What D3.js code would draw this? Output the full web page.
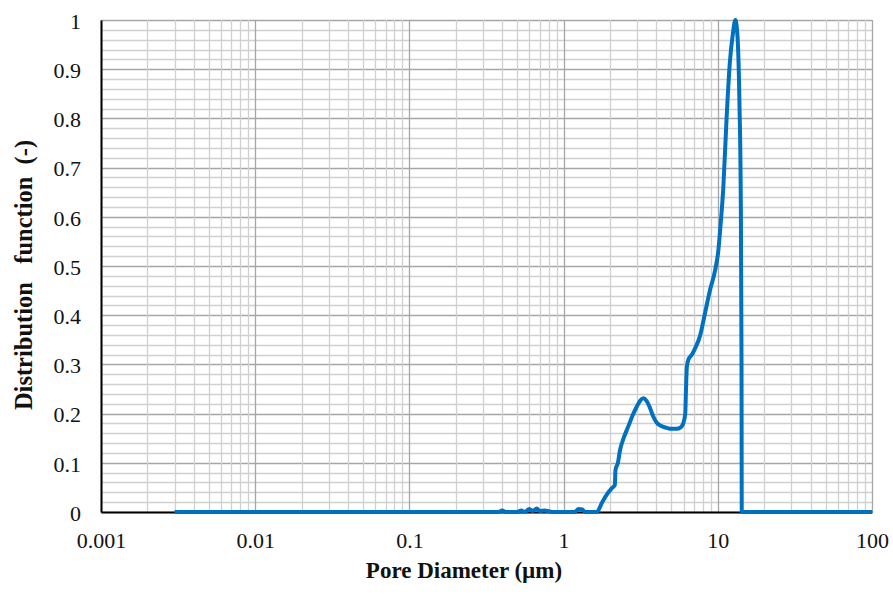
<!DOCTYPE html>
<html>
<head>
<meta charset="utf-8">
<script src="https://cdn.jsdelivr.net/npm/d3@7"></script>
<style>
  body { margin: 0; background: #fff; }
  text { font-family: 'Liberation Serif', 'Times New Roman', serif; fill: #111; }
</style>
</head>
<body>
<div id="chart"></div>
<script>
// pore size distribution
const diameters = [0.003, 0.38, 0.40, 0.42, 0.50, 0.53, 0.56, 0.60, 0.63, 0.67, 0.70, 0.75, 0.85,
  1.18, 1.25, 1.32, 1.38, 1.64, 1.78, 1.90, 2.05, 2.15, 2.17, 2.25, 2.32, 2.45, 2.62, 2.80,
  2.98, 3.15, 3.29, 3.45, 3.63, 3.80, 4.01, 4.30, 4.66, 5.00, 5.41, 5.75, 5.97, 6.15, 6.22,
  6.30, 6.45, 6.80, 7.11, 7.67, 8.26, 8.90, 9.59, 10.07, 10.4, 10.86, 11.4, 11.98, 12.5,
  13.0, 13.4, 13.8, 14.1, 14.25, 14.3, 100]
const distribution = [0, 0, 0.003, 0, 0, 0.003, 0, 0.006, 0.002, 0.007, 0.002, 0.003, 0,
  0, 0.006, 0.005, 0, 0, 0.02, 0.035, 0.048, 0.055, 0.085, 0.1, 0.125, 0.15, 0.173, 0.196,
  0.214, 0.227, 0.231, 0.226, 0.212, 0.195, 0.182, 0.175, 0.171, 0.169, 0.169, 0.172, 0.18, 0.2, 0.25,
  0.295, 0.31, 0.32, 0.332, 0.358, 0.404, 0.451, 0.49, 0.53, 0.58, 0.66, 0.8, 0.915, 0.97,
  1.0, 0.97, 0.84, 0.63, 0.3, 0, 0]
const xTickLabels = ['0.001', '0.01', '0.1', '1', '10', '100']
const yTickLabels = ['0', '0.1', '0.2', '0.3', '0.4', '0.5', '0.6', '0.7', '0.8', '0.9', '1']

const width = 893
const height = 599
const margin = { top: 20, right: 21, bottom: 87, left: 101 }
const chartWidth = width - margin.left - margin.right
const chartHeight = height - margin.top - margin.bottom

const svg = d3.select('#chart')
  .append('svg')
  .attr('width', width)
  .attr('height', height)

const g = svg.append('g')
  .attr('transform', `translate(${margin.left},${margin.top})`)

const xScale = d3.scaleLog()
  .domain([0.001, 100])
  .range([0, chartWidth])

const yScale = d3.scaleLinear()
  .domain([0, 1])
  .range([chartHeight, 0])

// grid lines
const minorY = d3.range(0, 51).map((i) => i * 0.02)
g.append('g').selectAll('line')
  .data(minorY)
  .enter()
  .append('line')
  .attr('x1', 0)
  .attr('x2', chartWidth)
  .attr('y1', (d) => Math.round(yScale(d)) + 0.5)
  .attr('y2', (d) => Math.round(yScale(d)) + 0.5)
  .attr('stroke', (d, i) => i % 5 === 0 ? '#a6a6a6' : '#d0d0d0')
  .attr('stroke-width', 1.3)

const minorX = []
for (let e = -3; e <= 2; e++) {
  for (let m = 1; m <= 9; m++) {
    const v = m * Math.pow(10, e)
    if (v <= 100.0001) minorX.push({ v, major: m === 1 })
  }
}
g.append('g').selectAll('line')
  .data(minorX)
  .enter()
  .append('line')
  .attr('y1', 0)
  .attr('y2', chartHeight)
  .attr('x1', (d) => Math.round(xScale(d.v)) + 0.5)
  .attr('x2', (d) => Math.round(xScale(d.v)) + 0.5)
  .attr('stroke', (d) => d.major ? '#a6a6a6' : '#d0d0d0')
  .attr('stroke-width', 1.3)

// axes
const xAxis = d3.axisBottom(xScale)
  .tickValues(xTickLabels.map(Number))
  .tickFormat((d, i) => xTickLabels[i])
  .tickSize(0)
  .tickPadding(20)

const yAxis = d3.axisLeft(yScale)
  .tickValues(yTickLabels.map(Number))
  .tickFormat((d, i) => yTickLabels[i])
  .tickSize(0)
  .tickPadding(20)

g.append('g')
  .attr('transform', `translate(0,${chartHeight})`)
  .call(xAxis)
  .call((a) => a.select('.domain').attr('stroke', '#000').attr('stroke-width', 2))
  .call((a) => a.selectAll('text')
    .attr('font-family', 'Liberation Serif')
    .attr('font-size', 22)
    .attr('fill', '#111')
    .attr('dy', '0.71em'))

g.append('g')
  .call(yAxis)
  .call((a) => a.select('.domain').attr('stroke', '#000').attr('stroke-width', 2))
  .call((a) => a.selectAll('text')
    .attr('font-family', 'Liberation Serif')
    .attr('font-size', 22)
    .attr('fill', '#111')
    .attr('dy', '0.38em'))

// distribution curve
const points = diameters.map((d, i) => ({ x: d, y: distribution[i] }))
const line = d3.line()
  .x((d) => xScale(d.x))
  .y((d) => yScale(d.y))
  .curve(d3.curveMonotoneX)

g.append('path')
  .datum(points)
  .attr('d', line)
  .attr('fill', 'none')
  .attr('stroke', '#0070c0')
  .attr('stroke-width', 4)
  .attr('stroke-linejoin', 'round')

// titles
svg.append('text')
  .attr('x', 464)
  .attr('y', 578)
  .attr('text-anchor', 'middle')
  .attr('font-size', 23)
  .attr('font-weight', 'bold')
  .text('Pore Diameter (\u00b5m)')

svg.append('text')
  .attr('transform', 'translate(32,275) rotate(-90)')
  .attr('text-anchor', 'middle')
  .attr('font-size', 24.5)
  .attr('font-weight', 'bold')
  .style('white-space', 'pre')
  .text('Distribution   function  (-)')
</script>
</body>
</html>
